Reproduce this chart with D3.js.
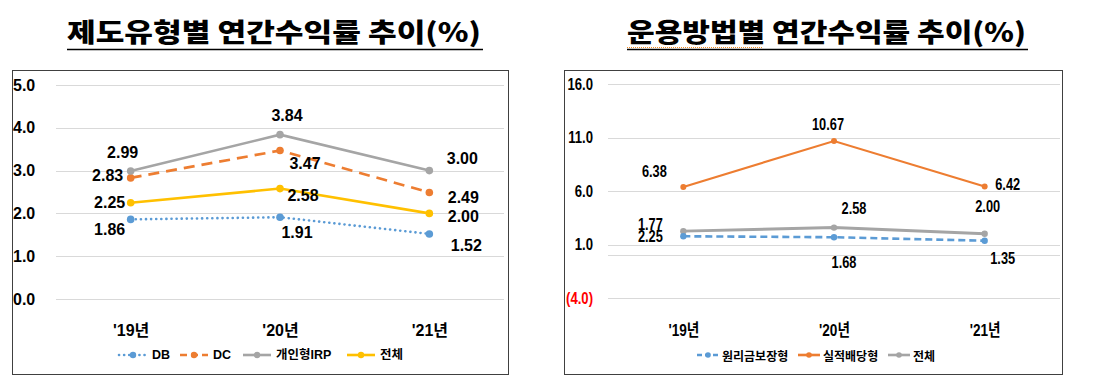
<!DOCTYPE html>
<html>
<head>
<meta charset="utf-8">
<script src="https://cdn.jsdelivr.net/npm/d3@7"></script>
<style>
  body { margin: 0; background: #fff; }
  svg { display: block; }
  text { font-family: "Liberation Sans", Arial, "Noto Sans CJK KR", sans-serif; }
  .kr { font-family: "Noto Sans CJK KR", sans-serif; }
</style>
</head>
<body>
<svg id="chart" width="1103" height="388"></svg>
<script>
// ---- data ----
const years = ["'19년", "'20년", "'21년"];

// left: 제도유형별
const leftSeriesNames = ["DB", "DC", "개인형IRP", "전체"];
const dbValues = [1.86, 1.91, 1.52];
const dcValues = [2.83, 3.47, 2.49];
const irpValues = [2.99, 3.84, 3.00];
const totalValues = [2.25, 2.58, 2.00];
const leftTicks = [0, 1, 2, 3, 4, 5];

// right: 운용방법별
const rightSeriesNames = ["원리금보장형", "실적배당형", "전체"];
const guaranteedValues = [1.77, 1.68, 1.35];
const performanceValues = [6.38, 10.67, 6.42];
const rightTotalValues = [2.25, 2.58, 2.00];
const rightTicks = [-4, 1, 6, 11, 16];

const svg = d3.select("#chart");

// titles
function title(x, text, w) {
  svg.append("text").attr("class", "kr")
    .attr("x", x).attr("y", 42)
    .attr("font-size", 26).attr("font-weight", 900)
    .attr("textLength", w).attr("lengthAdjust", "spacingAndGlyphs")
    .text(text);
  svg.append("line").attr("x1", x).attr("x2", x + w + 2)
    .attr("y1", 49.5).attr("y2", 49.5).attr("stroke", "#000").attr("stroke-width", 1.5);
}
title(67, "제도유형별 연간수익률 추이(%)", 414);
title(627, "운용방법별 연간수익률 추이(%)", 399);
// spell-check squiggle under 운용방법별
svg.append("line").attr("x1", 627).attr("x2", 762).attr("y1", 47.5).attr("y2", 47.5)
  .attr("stroke", "#f08a24").attr("stroke-width", 1).attr("stroke-dasharray", "1,1");

// frames
svg.append("rect").attr("x", 12.5).attr("y", 70.5).attr("width", 496).attr("height", 304)
  .attr("fill", "none").attr("stroke", "#404040");
svg.append("rect").attr("x", 564.5).attr("y", 70.5).attr("width", 498).attr("height", 304)
  .attr("fill", "none").attr("stroke", "#404040");

function drawLabel(g, x, y, txt, sx) {
  g.append("text")
    .attr("transform", `translate(${x},${y}) scale(${sx},1)`)
    .attr("text-anchor", "middle").attr("dominant-baseline", "central")
    .attr("font-size", 16).attr("font-weight", 700).attr("fill", "#000")
    .text(txt);
}

// ---------- LEFT CHART ----------
{
  const g = svg.append("g");
  const x = d3.scalePoint().domain(years).range([56, 504]).padding(0.5);
  const y = d3.scaleLinear().domain([0, 5]).range([299, 85]);

  g.selectAll(".grid").data(leftTicks).enter().append("line")
    .attr("x1", 56).attr("x2", 504)
    .attr("y1", d => Math.round(y(d)) + 0.5).attr("y2", d => Math.round(y(d)) + 0.5)
    .attr("stroke", "#d9d9d9");

  const yAxis = g.append("g").attr("transform", "translate(13,0)")
    .call(d3.axisRight(y).tickValues(leftTicks).tickFormat(d3.format(".1f")).tickSize(0));
  yAxis.select(".domain").remove();
  yAxis.selectAll("text").attr("x", 0).attr("font-size", 16).attr("font-weight", 700)
    .attr("fill", "#000").attr("font-family", "Liberation Sans, Arial, sans-serif");

  const xAxis = g.append("g").attr("transform", "translate(0,330)")
    .call(d3.axisBottom(x).tickSize(0));
  xAxis.select(".domain").remove();
  xAxis.selectAll("text").attr("y", 0).attr("dy", "0.35em").attr("font-size", 16)
    .attr("font-weight", 700).attr("fill", "#000")
    .attr("font-family", "Liberation Sans, Noto Sans CJK KR, sans-serif");

  const series = [
    { name: leftSeriesNames[0], values: dbValues, color: "#5B9BD5", dash: "0.1,5", cap: "round", w: 2.6,
      off: [[-21, 10], [17, 15], [37, 12]] },
    { name: leftSeriesNames[1], values: dcValues, color: "#ED7D31", dash: "11,7", cap: "butt", w: 2.6,
      off: [[-23, -2], [25, 13], [34, 5]] },
    { name: leftSeriesNames[2], values: irpValues, color: "#A5A5A5", dash: null, cap: "butt", w: 2.6,
      off: [[-8, -19], [7, -19], [33, -12]] },
    { name: leftSeriesNames[3], values: totalValues, color: "#FFC000", dash: null, cap: "butt", w: 2.6,
      off: [[-21, 0], [23, 7], [34, 3]] }
  ];
  const line = d3.line().x((d, i) => x(years[i])).y(d => y(d));
  series.forEach(s => {
    g.append("path").datum(s.values).attr("d", line).attr("fill", "none")
      .attr("stroke", s.color).attr("stroke-width", s.w)
      .attr("stroke-dasharray", s.dash).attr("stroke-linecap", s.cap);
    g.selectAll(null).data(s.values).enter().append("circle")
      .attr("cx", (d, i) => x(years[i])).attr("cy", d => y(d)).attr("r", 3.8)
      .attr("fill", s.color);
  });
  series.forEach(s => {
    s.values.forEach((v, i) => {
      drawLabel(g, x(years[i]) + s.off[i][0], y(v) + s.off[i][1], v.toFixed(2), 1);
    });
  });

  // legend
  const lg = g.append("g").attr("transform", "translate(0,355)");
  const lx = [119, 180, 243, 347];
  const tw = [0, 0, 0, 0];
  series.forEach((s, i) => {
    lg.append("line").attr("x1", lx[i]).attr("x2", lx[i] + 28).attr("y1", 0).attr("y2", 0)
      .attr("stroke", s.color).attr("stroke-width", 2.6)
      .attr("stroke-dasharray", s.dash ? (i === 0 ? "0.1,5" : "7,4") : null)
      .attr("stroke-linecap", s.cap);
    lg.append("circle").attr("cx", lx[i] + 14).attr("cy", 0).attr("r", 3.2).attr("fill", s.color);
    lg.append("text").attr("x", lx[i] + 33).attr("y", 0).attr("dominant-baseline", "central")
      .attr("font-size", 12.5).attr("font-weight", 700).attr("fill", "#000")
      .attr("font-family", "Liberation Sans, Noto Sans CJK KR, sans-serif")
      .text(s.name);
  });
}

// ---------- RIGHT CHART ----------
{
  const g = svg.append("g");
  const x = d3.scalePoint().domain(years).range([608, 1060]).padding(0.5);
  const y = d3.scaleLinear().domain([-4, 16]).range([298, 84]);

  g.selectAll(".grid").data(rightTicks.concat([0])).enter().append("line")
    .attr("x1", 608).attr("x2", 1060)
    .attr("y1", d => Math.round(y(d)) + 0.5).attr("y2", d => Math.round(y(d)) + 0.5)
    .attr("stroke", "#d9d9d9");

  const yAxis = g.append("g").attr("transform", "translate(593,0)")
    .call(d3.axisLeft(y).tickValues(rightTicks)
      .tickFormat(d => d < 0 ? "(" + Math.abs(d).toFixed(1) + ")" : d.toFixed(1)).tickSize(0));
  yAxis.select(".domain").remove();
  yAxis.selectAll("text").attr("x", 0).attr("font-size", 16).attr("font-weight", 700)
    .attr("fill", d => d < 0 ? "#FF0000" : "#000")
    .attr("font-family", "Liberation Sans, Arial, sans-serif")
    .attr("transform", "scale(0.8,1)")
    .attr("x", 0);
  // keep right-aligned at x=0 after horizontal squeeze
  yAxis.selectAll(".tick text").attr("transform", null)
    .each(function () { d3.select(this).attr("textLength", null); })
    .style("transform-box", "fill-box").style("transform-origin", "right center")
    .style("transform", "scaleX(0.82)");

  const xAxis = g.append("g").attr("transform", "translate(0,330)")
    .call(d3.axisBottom(x).tickSize(0));
  xAxis.select(".domain").remove();
  xAxis.selectAll("text").attr("y", 0).attr("dy", "0.35em").attr("font-size", 17)
    .attr("font-weight", 700).attr("fill", "#000")
    .attr("font-family", "Liberation Sans, Noto Sans CJK KR, sans-serif")
    .style("transform-box", "fill-box").style("transform-origin", "center")
    .style("transform", "scaleX(0.8)");

  const series = [
    { name: rightSeriesNames[0], values: guaranteedValues, color: "#5B9BD5", dash: "7,4", w: 2.6, r: 3.2,
      off: [[-33, -12], [10, 25], [18, 18]] },
    { name: rightSeriesNames[1], values: performanceValues, color: "#ED7D31", dash: null, w: 2.2, r: 3,
      off: [[-29, -15], [-6, -17], [23, -2]] },
    { name: rightSeriesNames[2], values: rightTotalValues, color: "#A5A5A5", dash: null, w: 3, r: 3.2,
      off: [[-33, 5], [20, -19], [3, -27]] }
  ];
  const line = d3.line().x((d, i) => x(years[i])).y(d => y(d));
  const drawOrder = [2, 0, 1];
  drawOrder.forEach(k => {
    const s = series[k];
    g.append("path").datum(s.values).attr("d", line).attr("fill", "none")
      .attr("stroke", s.color).attr("stroke-width", s.w).attr("stroke-dasharray", s.dash);
    g.selectAll(null).data(s.values).enter().append("circle")
      .attr("cx", (d, i) => x(years[i])).attr("cy", d => y(d)).attr("r", s.r)
      .attr("fill", s.color);
  });
  series.forEach(s => {
    s.values.forEach((v, i) => {
      drawLabel(g, x(years[i]) + s.off[i][0], y(v) + s.off[i][1], v.toFixed(2), 0.8);
    });
  });

  // legend
  const lg = g.append("g").attr("transform", "translate(0,355)");
  const lx = [697, 798, 888];
  series.forEach((s, i) => {
    lg.append("line").attr("x1", lx[i]).attr("x2", lx[i] + 22).attr("y1", 0).attr("y2", 0)
      .attr("stroke", s.color).attr("stroke-width", 2.6)
      .attr("stroke-dasharray", s.dash ? "5,3" : null);
    lg.append("circle").attr("cx", lx[i] + 11).attr("cy", 0).attr("r", 2.8).attr("fill", s.color);
    lg.append("text").attr("class", "kr").attr("x", lx[i] + 25).attr("y", 0)
      .attr("dominant-baseline", "central")
      .attr("font-size", 12).attr("font-weight", 700).attr("fill", "#000")
      .text(s.name);
  });
}
</script>
</body>
</html>
